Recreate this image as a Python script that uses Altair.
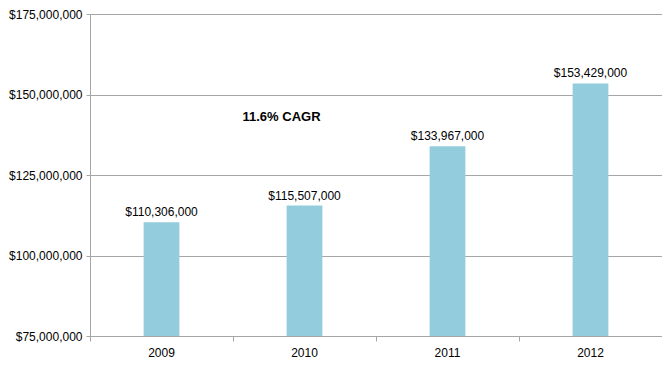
import altair as alt
import pandas as pd

years = ["2009", "2010", "2011", "2012"]
revenue = [110306000, 115507000, 133967000, 153429000]
labels = ["$110,306,000", "$115,507,000", "$133,967,000", "$153,429,000"]
note = "11.6% CAGR"

df = pd.DataFrame({"year": years, "revenue": revenue, "label": labels})

FONT = "Liberation Sans"
GRID = "#a6a6a6"

x_enc = alt.X("year:N", sort=years, title=None,
              scale=alt.Scale(paddingInner=0, paddingOuter=0),
              axis=alt.Axis(labelAngle=0, labelFontSize=12, labelFont=FONT,
                            labelColor="#000000", labelPadding=6,
                            domainColor=GRID, tickColor=GRID, tickSize=5,
                            bandPosition=0, grid=False))
y_scale = alt.Scale(domain=[75000000, 175000000], zero=False, nice=False)

bars = alt.Chart(df).mark_bar(color="#93cddd", width={"band": 0.25}).encode(
    x=x_enc,
    y=alt.Y("revenue:Q", scale=y_scale, title=None,
            axis=alt.Axis(values=[75000000, 100000000, 125000000, 150000000, 175000000],
                          format="$,.0f", labelFontSize=12, labelFont=FONT,
                          labelColor="#000000", labelPadding=4,
                          domainColor=GRID, tickColor=GRID, tickSize=4,
                          gridColor=GRID, gridWidth=1)),
    y2=alt.datum(75000000),
)

text = alt.Chart(df).mark_text(baseline="bottom", dy=-3, fontSize=12, font=FONT,
                               color="#000000").encode(
    x=alt.X("year:N", sort=years),
    y=alt.Y("revenue:Q", scale=y_scale),
    text="label:N",
)

cagr = alt.Chart(pd.DataFrame({"t": [note]})).mark_text(
    dx=-23, fontSize=13, fontWeight="bold", font=FONT, color="#000000"
).encode(
    x=alt.datum("2010"),
    y=alt.datum(143100000),
    text="t:N",
)

chart = alt.layer(bars, text, cagr).properties(
    width=654, height=350,
    autosize=alt.AutoSizeParams(type="fit", contains="padding"),
    padding=0,
).configure_view(stroke=None).configure(background="#ffffff")

chart.save("out.html", embed_options={"renderer": "svg", "actions": False})
